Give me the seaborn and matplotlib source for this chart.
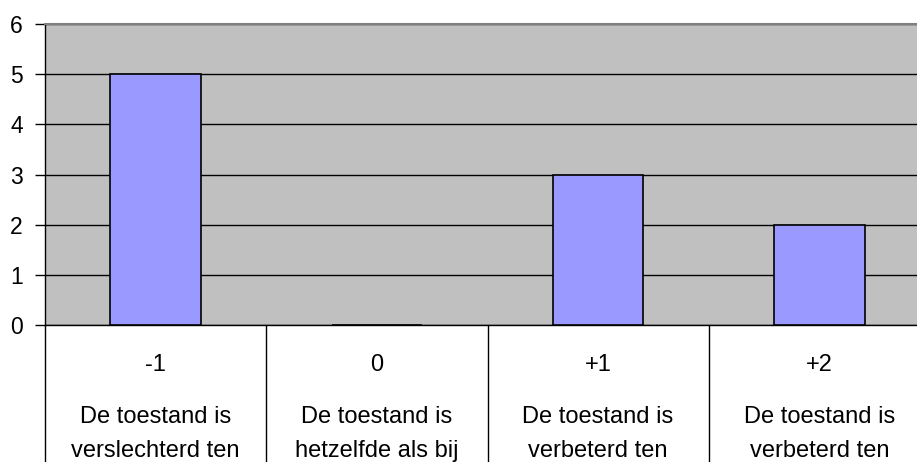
import matplotlib
matplotlib.use("Agg")
import matplotlib.pyplot as plt
import matplotlib.transforms as mtransforms
import seaborn as sns
import pandas as pd

codes = ["-1", "0", "+1", "+2"]
line1 = ["De toestand is", "De toestand is", "De toestand is", "De toestand is"]
line2 = ["verslechterd ten", "hetzelfde als bij", "verbeterd ten", "verbeterd ten"]
counts = [5, 0, 3, 2]
yticks = [0, 1, 2, 3, 4, 5, 6]

sns.set_style("white")
plt.rcParams['font.family'] = ['Liberation Sans', 'DejaVu Sans']
plt.rcParams['text.color'] = 'black'
plt.rcParams['ytick.color'] = 'black'
plt.rcParams['ytick.labelcolor'] = 'black'

W, H = 917, 462
fig = plt.figure(figsize=(W / 100, H / 100), dpi=100)
x0, x1, ytop, ybot = 45, 930, 24, 325
ax = fig.add_axes([x0 / W, (H - ybot) / H, (x1 - x0) / W, (ybot - ytop) / H])

df = pd.DataFrame({"code": codes, "count": counts})
sns.barplot(data=df, x="code", y="count", ax=ax, color="#9999FF", saturation=1,
            edgecolor="black", linewidth=1.2, width=0.41, zorder=3)

ax.set_facecolor("#C0C0C0")
ax.set_ylim(0, 6)
ax.set_xlim(-0.5, 3.5)
ax.set_yticks(yticks)
ax.set_yticklabels([str(v) for v in yticks], fontsize=16.5, color="black")
ax.yaxis.grid(True, color="black", linewidth=1, zorder=1)
ax.set_axisbelow(True)
ax.tick_params(axis="y", left=True, length=7, width=1, color="black", pad=9)
ax.tick_params(axis="x", bottom=False, labelbottom=False)
ax.set_xlabel("")
ax.set_ylabel("")
for s in ["left", "bottom"]:
    ax.spines[s].set_color("black")
    ax.spines[s].set_linewidth(1)
ax.spines["top"].set_color("#808080")
ax.spines["top"].set_linewidth(1.5)
ax.spines["right"].set_visible(False)

trans = mtransforms.blended_transform_factory(ax.transData, ax.transAxes)
for xs in [-0.5, 0.5, 1.5, 2.5]:
    ax.plot([xs, xs], [0, -1], transform=trans, color="black", linewidth=1, clip_on=False)

h = ybot - ytop
def ya(py):
    return (ybot - py) / h

for i, c in enumerate(codes):
    ax.text(i, ya(365), c, transform=trans, ha="center", va="center", fontsize=17, color="black", clip_on=False)
    ax.text(i, ya(417), line1[i], transform=trans, ha="center", va="center", fontsize=17, color="black", clip_on=False)
    ax.text(i, ya(451), line2[i], transform=trans, ha="center", va="center", fontsize=17, color="black", clip_on=False)

fig.savefig("out.png", dpi=100)
